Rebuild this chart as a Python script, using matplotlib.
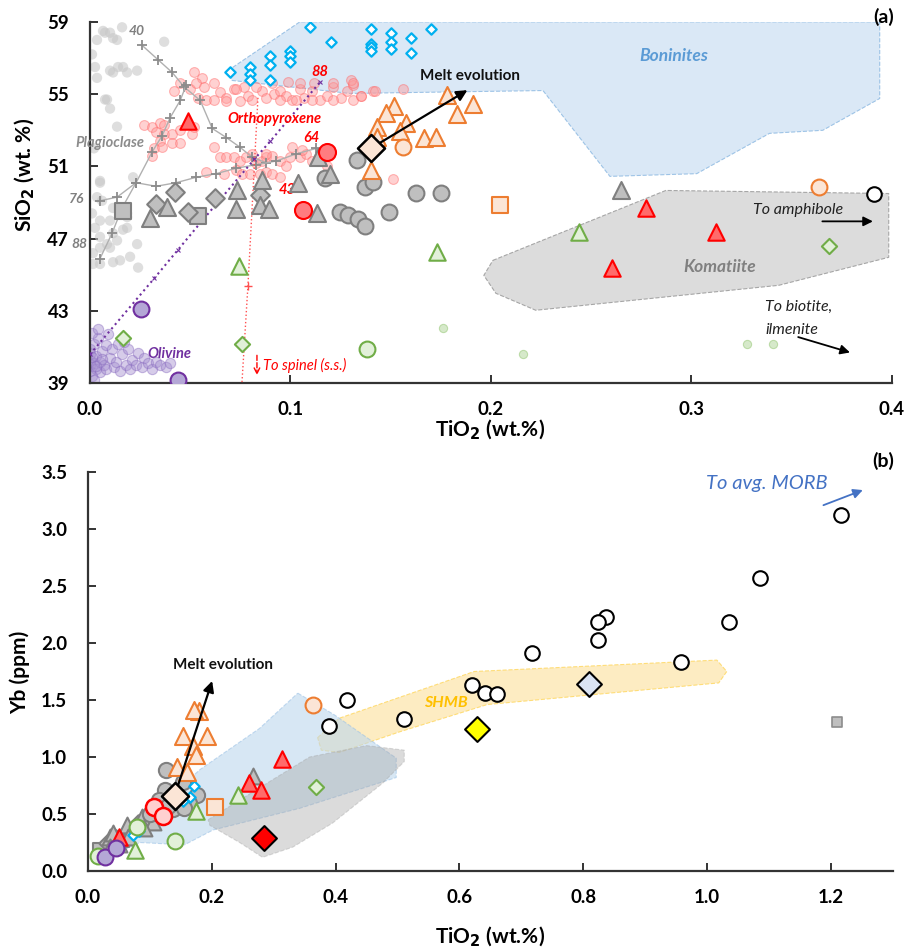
import matplotlib
matplotlib.use('Agg')
import matplotlib.pyplot as plt

plt.rcParams['font.family'] = ['Lato', 'DejaVu Sans']

# ================= Panel (a): SiO2 vs TiO2 =================
plag_x = [0.0065,0.010,0.0035,0.0135,0.014,0.0025,0.0035,0.0085,0.0135,0.005,0.006,0.001,0.0025,0.010,
          0.0115,0.005,0.010,0.0015,0.0135,0.0185,0.015,0.005,0.0185,0.0075,0.0115,0.016,0.037,0.010,
          0.0115,0.0165,0.0185,0.0235,0.0075,0.010,0.0215,0.005,0.0035,0.0115,0.005,0.0165,0.0235,0.0085,
          0.0015,0.0115,0.020,0.024,0.005,0.0185,0.001,0.002]
plag_y = [58.5,58.4,58.0,58.0,56.5,56.5,55.9,54.7,53.2,50.2,49.1,48.4,47.6,48.0,
          47.3,46.5,46.5,46.2,46.9,47.6,45.8,45.6,48.4,58.4,58.1,58.7,57.9,56.3,
          56.2,56.5,56.2,56.3,54.7,54.2,50.4,50.1,49.3,48.7,48.0,47.5,46.7,46.7,
          45.6,45.7,46.0,45.4,47.1,48.2,57.2,52.0]

opx_x = [0.052,0.056,0.045,0.042,0.050,0.053,0.057,0.062,0.065,0.068,0.072,0.077,0.079,0.081,0.086,0.088,
         0.092,0.095,0.098,0.101,0.105,0.107,0.111,0.115,0.118,0.121,0.125,0.128,0.131,0.135,0.141,0.054,
         0.058,0.062,0.068,0.075,0.095,0.103,0.111,0.121,0.131,0.073,0.083,0.099,0.105,0.112,0.121,0.091,
         0.130,0.131,0.135,0.142,0.156,0.151,
         0.027,0.031,0.035,0.037,0.033,0.037,0.041,0.045,0.051,0.052,0.035,0.041,0.045,0.032,0.031,0.036,
         0.062,0.065,0.068,0.072,0.075,0.078,0.081,0.083,0.086,0.088,0.091,0.095,0.098,0.101,0.105,0.108,
         0.111,0.058,0.067,0.073,0.076,0.080,0.085,0.088,0.091,0.095,0.100,0.106,0.118,0.088]
opx_y = [56.2,55.9,55.6,55.2,55.3,55.6,55.4,55.6,55.1,54.8,55.3,55.4,54.9,54.7,55.2,54.8,
         55.0,55.2,54.9,54.7,55.3,54.8,55.2,54.7,54.9,55.4,54.8,55.2,55.5,54.9,55.2,54.8,
         54.7,54.7,54.6,54.6,54.7,54.7,54.7,54.7,54.7,55.3,55.4,55.7,55.6,55.6,55.6,55.6,
         55.8,55.6,54.9,55.2,55.3,50.3,
         53.3,53.2,53.4,53.3,52.9,52.8,52.8,53.0,52.8,53.2,52.4,52.3,52.3,52.0,51.6,52.1,
         52.1,51.5,51.5,51.5,51.3,51.5,51.7,51.2,51.3,51.5,51.6,51.3,51.0,52.1,51.5,51.7,
         51.3,50.7,50.6,50.8,50.6,50.6,50.6,50.7,50.6,50.4,51.5,51.9,51.0,51.7]

ol_x = [0.0,0.0,0.0,0.0,0.0,0.002,0.002,0.003,0.003,0.004,0.005,0.005,0.006,0.007,0.008,0.008,0.010,
        0.011,0.012,0.013,0.014,0.015,0.016,0.018,0.019,0.020,0.021,0.023,0.024,0.026,0.027,0.029,0.031,
        0.033,0.035,0.038,0.040,0.001,0.004,0.009,0.017,0.001,0.002,0.001,0.003,0.006]
ol_y = [40.0,40.3,40.6,40.9,39.7,41.2,40.1,39.8,40.5,41.5,40.2,39.6,40.8,40.0,41.1,39.8,40.4,
        40.9,39.9,40.2,41.2,39.7,40.6,40.0,40.9,39.8,40.3,40.0,40.7,39.9,40.4,40.1,39.8,
        40.2,40.0,39.9,40.1,41.8,42.0,41.7,41.3,39.4,39.2,40.45,39.95,40.35]

bon_x = [0.0688,0.1047,0.394,0.394,0.3656,0.339,0.3027,0.2594,0.226,0.1297,0.0708]
bon_y = [56.3,59.0,59.0,54.76,53.0,52.83,50.6,50.45,55.2,55.04,55.76]
kom_x = [0.201,0.2873,0.3985,0.3985,0.3436,0.2224,0.2025,0.1965]
kom_y = [45.8,49.67,49.5,45.97,44.42,43.04,43.98,44.97]

bdia_x = [0.070,0.080,0.080,0.080,0.090,0.090,0.090,0.100,0.100,0.100,0.110,0.120,0.140,0.140,0.140,
          0.140,0.150,0.150,0.150,0.160,0.160,0.170]
bdia_y = [56.2,56.5,56.1,55.8,57.1,56.6,55.8,57.4,57.1,56.8,58.7,57.9,58.6,57.75,57.6,57.4,58.4,57.9,
          57.5,58.1,57.3,58.6]

gtri_x = [0.0299,0.0384,0.0733,0.0728,0.0858,0.0848,0.0893,0.1132,0.1037,0.1137,0.1197,0.2648]
gtri_y = [48.13,48.73,49.67,48.62,50.23,48.85,48.62,48.40,50.06,51.5,50.6,49.67]
gcir_x = [0.1172,0.1247,0.1287,0.1337,0.1372,0.1332,0.1372,0.1411,0.1491,0.1626,0.1751]
gcir_y = [50.34,48.46,48.29,48.07,47.68,51.33,49.84,50.12,48.46,49.51,49.51]
gdia_x = [0.0329,0.0424,0.0489,0.0623,0.0848]
gdia_y = [48.9,49.56,48.46,49.23,49.4]
gsq_x = [0.0165,0.0539]
gsq_y = [48.51,48.24]

otri_x = [0.1781,0.191,0.183,0.1516,0.1476,0.1576,0.1546,0.1431,0.1431,0.1666,0.1726,0.1401]
otri_y = [54.93,54.43,53.88,54.32,53.93,53.38,52.94,53.16,52.61,52.55,52.61,50.78]
ocir_x = [0.1561,0.3636]
ocir_y = [52.05,49.84]
osq_x = [0.2045]
osq_y = [48.85]

rtri_x = [0.2773,0.3122,0.2604,0.0489]
rtri_y = [48.68,47.35,45.36,53.49]
rcir_x = [0.1182,0.1062]
rcir_y = [51.78,48.57]

grtri_x = [0.0743,0.173,0.2439]
grtri_y = [45.5,46.25,47.35]
grdia_x = [0.0165,0.0758,0.3686]
grdia_y = [41.5,41.2,46.58]
grcir_x = [0.138]
grcir_y = [40.9]
lgr_x = [0.176,0.216,0.3277,0.341]
lgr_y = [42.04,40.6,41.2,41.16]

pcir_x = [0.0254,0.0439]
pcir_y = [43.1,39.2]
kcir_x = [0.391]
kcir_y = [49.5]
bigdia_a = (0.1401, 52.0)

# model curves
l40_x = [0.026,0.034,0.041,0.047,0.055,0.061,0.068,0.075,0.081,0.088]
l40_y = [57.7,56.9,56.2,55.4,54.65,53.1,52.6,52.05,51.5,51.2]
l88_x = [0.005,0.011,0.016,0.023,0.031,0.036,0.040,0.045,0.048]
l88_y = [45.9,47.3,48.7,50.1,51.8,52.7,53.7,54.65,55.5]
l76_x = [0.005,0.0135,0.023,0.033,0.043,0.053,0.063,0.073,0.083,0.093,0.103,0.113]
l76_y = [49.1,49.3,50.1,49.9,50.1,50.4,50.6,50.9,51.1,51.3,51.7,52.0]
ol_line_x = [0.0,0.032,0.044,0.056,0.082,0.090,0.115]
ol_line_y = [40.6,44.8,46.4,48.0,51.4,52.4,55.7]
sp_line_x = [0.0838,0.0805,0.0788,0.0758]
sp_line_y = [54.8,47.9,44.4,39.0]

# ================= Panel (b): Yb vs TiO2 =================
kb_x = [1.216,1.085,1.035,0.837,0.824,0.824,0.718,0.958,0.621,0.642,0.661,0.510,0.419,0.390]
kb_y = [3.12,2.57,2.18,2.23,2.18,2.03,1.91,1.83,1.63,1.56,1.55,1.33,1.50,1.27]
bon2_x = [0.339,0.398,0.498,0.498,0.342,0.202,0.156,0.084,0.015,0.181,0.277]
bon2_y = [1.56,1.37,0.99,0.82,0.55,0.36,0.23,0.25,0.08,0.89,1.25]
kom2_x = [0.194,0.289,0.358,0.45,0.511,0.511,0.476,0.395,0.331,0.282,0.245,0.197]
kom2_y = [0.45,0.77,1.00,1.10,1.06,0.96,0.77,0.42,0.21,0.12,0.25,0.40]
shmb_x = [0.371,0.406,0.624,1.016,1.032,1.019,0.645,0.503,0.406,0.377]
shmb_y = [1.17,1.34,1.75,1.85,1.75,1.65,1.46,1.22,1.04,1.06]

b_otri_x = [0.179,0.172,0.153,0.192,0.169,0.175,0.144,0.160]
b_otri_y = [1.40,1.41,1.18,1.18,1.10,1.02,0.91,0.87]
b_ocir_x = [0.363]
b_ocir_y = [1.46]
b_osq_x = [0.206]
b_osq_y = [0.56]
b_rtri_x = [0.314,0.260,0.279,0.050]
b_rtri_y = [0.98,0.77,0.71,0.30]
b_rcir_x = [0.106,0.121]
b_rcir_y = [0.56,0.48]
b_grtri_x = [0.242,0.174,0.076]
b_grtri_y = [0.67,0.53,0.18]
b_grdia_x = [0.369]
b_grdia_y = [0.74]
b_grcir_x = [0.140,0.079,0.016]
b_grcir_y = [0.26,0.39,0.13]
b_pcir_x = [0.027,0.046]
b_pcir_y = [0.12,0.20]
b_bdia_x = [0.151,0.171,0.111,0.073,0.082,0.165,0.153]
b_bdia_y = [0.86,0.75,0.54,0.32,0.35,0.65,0.61]
b_gcir_x = [0.126,0.153,0.176,0.163,0.137,0.124,0.145,0.115,0.130,0.100,0.155]
b_gcir_y = [0.89,0.78,0.67,0.60,0.54,0.71,0.62,0.62,0.57,0.50,0.55]
b_gtri_x = [0.035,0.040,0.063,0.087,0.105,0.090,0.035,0.065,0.110,0.125,0.266,0.050]
b_gtri_y = [0.30,0.33,0.40,0.47,0.43,0.38,0.21,0.30,0.52,0.60,0.83,0.24]
b_gdia_x = [0.030,0.045,0.068,0.095,0.080]
b_gdia_y = [0.25,0.29,0.34,0.46,0.42]
b_gsq_x = [0.020,0.055]
b_gsq_y = [0.18,0.27]
b_gsq_small = (1.21, 1.31)
b_bigdia = (0.140, 0.66)
b_bluedia = (0.810, 1.64)
b_yeldia = (0.629, 1.245)
b_reddia = (0.285, 0.29)

# ---------------- styles ----------------
GRAY_FC, GRAY_EC = '#bfbfbf', '#7f7f7f'
OR_FC, OR_EC = '#fbe5d6', '#ed7d31'
GR_FC, GR_EC = '#e2f0d9', '#70ad47'

fig = plt.figure(figsize=(9.09, 9.51), dpi=100)
axA = fig.add_axes([0.099, 0.597, 0.882, 0.380])
axB = fig.add_axes([0.0968, 0.0841, 0.8852, 0.4196])


def sc(ax, x, y, m, s, fc, ec, lw=1.5, z=5, alpha=1.0):
    ax.scatter(x, y, marker=m, s=s, facecolors=fc, edgecolors=ec, linewidths=lw, zorder=z, alpha=alpha)


def style(ax):
    for sp in ['top', 'right']:
        ax.spines[sp].set_visible(False)
    for sp in ['left', 'bottom']:
        ax.spines[sp].set_linewidth(1.6)
        ax.spines[sp].set_color('#333333')
    ax.tick_params(direction='in', length=6, width=1.4, color='#333333', labelsize=13.5)
    ax.tick_params(axis='y', pad=15)
    ax.tick_params(axis='x', pad=13)
    for lab in ax.get_xticklabels() + ax.get_yticklabels():
        lab.set_fontweight('bold')


# ---- Panel A ----
ax = axA
ax.fill(bon_x, bon_y, facecolor='#dae8f6', edgecolor='#9dc3e6', ls='--', lw=0.8, zorder=1)
ax.fill(kom_x, kom_y, facecolor='#dcdcdc', edgecolor='#a6a6a6', ls='--', lw=0.8, zorder=1)
ax.scatter(plag_x, plag_y, s=55, color='#c8c8c8', alpha=0.6, edgecolors='none', zorder=2)
ax.scatter(ol_x, ol_y, s=55, facecolors='#a58fd0', edgecolors='#8a6cc0', alpha=0.45, lw=0.8, zorder=2)
ax.scatter(opx_x, opx_y, s=50, facecolors='#ff9a9a', edgecolors='#ff6666', alpha=0.45, lw=0.8, zorder=2)
ax.scatter(lgr_x, lgr_y, s=35, facecolors='#c5e0b4', edgecolors='#a9d18e', alpha=0.7, lw=0.8, zorder=2)

for lx, ly in [(l40_x, l40_y), (l88_x, l88_y), (l76_x, l76_y)]:
    ax.plot(lx, ly, color='#b0b0b0', lw=1.0, marker='+', ms=7, mew=1.3, mec='#8c8c8c', zorder=3)
ax.plot(ol_line_x, ol_line_y, color='#7030a0', ls=':', lw=1.5, marker='x', ms=3, mew=0.8, zorder=3)
ax.plot(sp_line_x, sp_line_y, color='#ff5050', ls=':', lw=1.0, zorder=3)
ax.plot([sp_line_x[2]], [sp_line_y[2]], color='#ff5050', marker='+', ms=6, mew=1, zorder=3)

sc(ax, bdia_x, bdia_y, 'D', 28, 'white', '#00b0f0', lw=1.6, z=4)
sc(ax, gsq_x, gsq_y, 's', 140, GRAY_FC, GRAY_EC)
sc(ax, gdia_x, gdia_y, 'D', 90, GRAY_FC, GRAY_EC)
sc(ax, gcir_x, gcir_y, 'o', 130, GRAY_FC, GRAY_EC)
sc(ax, gtri_x, gtri_y, '^', 150, GRAY_FC, GRAY_EC)
sc(ax, otri_x, otri_y, '^', 150, OR_FC, OR_EC)
sc(ax, ocir_x, ocir_y, 'o', 130, OR_FC, OR_EC)
sc(ax, osq_x, osq_y, 's', 130, OR_FC, OR_EC)
sc(ax, rtri_x, rtri_y, '^', 140, '#ff6b6b', '#ff0000')
sc(ax, rcir_x, rcir_y, 'o', 150, '#ff7c80', '#ff0000')
sc(ax, grtri_x, grtri_y, '^', 140, GR_FC, GR_EC)
sc(ax, grdia_x, grdia_y, 'D', 60, GR_FC, GR_EC)
sc(ax, grcir_x, grcir_y, 'o', 130, GR_FC, GR_EC)
sc(ax, pcir_x, pcir_y, 'o', 130, '#b4a7d6', '#7030a0')
sc(ax, kcir_x, kcir_y, 'o', 110, 'white', 'black')
ax.annotate('', xy=(0.1895, 55.3), xytext=bigdia_a,
            arrowprops=dict(arrowstyle='-|>', color='black', lw=1.6, mutation_scale=16), zorder=6)
sc(ax, [bigdia_a[0]], [bigdia_a[1]], 'D', 190, '#fbe5d6', 'black', lw=1.8, z=7)

ax.set_xlim(0, 0.4)
ax.set_ylim(39, 59)
ax.set_xticks([0.0, 0.1, 0.2, 0.3, 0.4])
ax.set_xticklabels(['0.0', '0.1', '0.2', '0.3', '0.4'])
ax.set_yticks([39, 43, 47, 51, 55, 59])
style(ax)

it = dict(fontstyle='italic', fontweight='bold')
ax.text(0.1895, 56.0, 'Melt evolution', ha='center', va='center', fontsize=11, fontweight='bold', color='#111111', zorder=8)
ax.text(0.2915, 57.1, 'Boninites', ha='center', va='center', fontsize=12.5, color='#5b9bd5', **it)
ax.text(0.3142, 45.42, 'Komatiite', ha='center', va='center', fontsize=12.5, color='#808080', **it)
ax.text(0.092, 53.6, 'Orthopyroxene', ha='center', va='center', fontsize=10.5, color='#ff0000', **it)
ax.text(-0.0075, 52.3, 'Plagioclase', ha='left', va='center', fontsize=10.5, color='#8c8c8c', **it)
ax.text(0.0285, 40.6, 'Olivine', ha='left', va='center', fontsize=10.5, color='#7030a0', **it)
ax.text(0.0235, 58.5, '40', ha='center', va='center', fontsize=10, color='#808080', **it)
ax.text(-0.0065, 49.2, '76', ha='center', va='center', fontsize=10, color='#808080', **it)
ax.text(-0.0055, 46.7, '88', ha='center', va='center', fontsize=10, color='#808080', **it)
ax.text(0.1147, 56.2, '88', ha='center', va='center', fontsize=10.5, color='#ff0000', **it)
ax.text(0.1107, 52.6, '64', ha='center', va='center', fontsize=10.5, color='#ff0000', **it)
ax.text(0.0985, 49.7, '43', ha='center', va='center', fontsize=10.5, color='#ff0000', **it)
ax.text(0.0865, 40.0, 'To spinel (s.s.)', ha='left', va='center', fontsize=10.5, color='#ff0000', fontstyle='italic')
ax.annotate('', xy=(0.0833, 39.3), xytext=(0.0833, 40.7),
            arrowprops=dict(arrowstyle='->', color='#ff0000', lw=1.0, ls='--'))
ax.text(0.331, 48.57, 'To amphibole', ha='left', va='center', fontsize=11.5, color='#222222', fontstyle='italic')
ax.annotate('', xy=(0.392, 47.96), xytext=(0.364, 47.96),
            arrowprops=dict(arrowstyle='-|>', color='black', lw=1.3, mutation_scale=14))
ax.text(0.337, 43.2, 'To biotite,', ha='left', va='center', fontsize=11.5, color='#222222', fontstyle='italic')
ax.text(0.337, 41.95, 'ilmenite', ha='left', va='center', fontsize=11.5, color='#222222', fontstyle='italic')
ax.annotate('', xy=(0.3805, 40.66), xytext=(0.352, 41.6),
            arrowprops=dict(arrowstyle='-|>', color='black', lw=1.3, mutation_scale=14))

# ---- Panel B ----
ax = axB
ax.fill(shmb_x, shmb_y, facecolor='#fde9b8', edgecolor='#ffd966', ls='--', lw=0.8, alpha=0.85, zorder=1)
ax.fill(bon2_x, bon2_y, facecolor='#bdd7ee', edgecolor='#9dc3e6', ls='--', lw=0.8, alpha=0.6, zorder=1)
ax.fill(kom2_x, kom2_y, facecolor='#a6a6a6', edgecolor='#a6a6a6', ls='--', lw=0.8, alpha=0.4, zorder=1)

sc(ax, b_gsq_x, b_gsq_y, 's', 100, GRAY_FC, GRAY_EC)
sc(ax, b_gdia_x, b_gdia_y, 'D', 70, GRAY_FC, GRAY_EC)
sc(ax, b_gtri_x, b_gtri_y, '^', 130, GRAY_FC, GRAY_EC)
sc(ax, b_gcir_x, b_gcir_y, 'o', 120, GRAY_FC, GRAY_EC)
sc(ax, b_bdia_x, b_bdia_y, 'D', 28, 'white', '#00b0f0', lw=1.6)
sc(ax, b_otri_x, b_otri_y, '^', 150, OR_FC, OR_EC)
sc(ax, b_ocir_x, b_ocir_y, 'o', 130, OR_FC, OR_EC)
sc(ax, b_osq_x, b_osq_y, 's', 130, OR_FC, OR_EC)
sc(ax, b_rtri_x, b_rtri_y, '^', 140, '#ff6b6b', '#ff0000')
sc(ax, b_rcir_x, b_rcir_y, 'o', 150, '#ffd0d0', '#ff0000', lw=1.8)
sc(ax, b_grtri_x, b_grtri_y, '^', 140, GR_FC, GR_EC)
sc(ax, b_grdia_x, b_grdia_y, 'D', 60, GR_FC, GR_EC)
sc(ax, b_grcir_x, b_grcir_y, 'o', 130, GR_FC, GR_EC)
sc(ax, b_pcir_x, b_pcir_y, 'o', 130, '#b4a7d6', '#7030a0')
sc(ax, kb_x, kb_y, 'o', 110, 'white', 'black')
sc(ax, [b_gsq_small[0]], [b_gsq_small[1]], 's', 55, '#bfbfbf', '#8c8c8c', lw=1.2)
sc(ax, [b_bluedia[0]], [b_bluedia[1]], 'D', 160, '#dae3f3', 'black', lw=1.5)
sc(ax, [b_yeldia[0]], [b_yeldia[1]], 'D', 160, '#ffff00', 'black', lw=1.5)
sc(ax, [b_reddia[0]], [b_reddia[1]], 'D', 160, '#ff0000', 'black', lw=1.5)
ax.annotate('', xy=(0.202, 1.69), xytext=b_bigdia,
            arrowprops=dict(arrowstyle='-|>', color='black', lw=1.6, mutation_scale=16), zorder=6)
sc(ax, [b_bigdia[0]], [b_bigdia[1]], 'D', 190, '#fbe5d6', 'black', lw=1.8, z=7)

ax.set_xlim(0, 1.3)
ax.set_ylim(0, 3.5)
ax.set_xticks([0.0, 0.2, 0.4, 0.6, 0.8, 1.0, 1.2])
ax.set_xticklabels(['0.0', '0.2', '0.4', '0.6', '0.8', '1.0', '1.2'])
ax.set_yticks([0.0, 0.5, 1.0, 1.5, 2.0, 2.5, 3.0, 3.5])
ax.set_yticklabels(['0.0', '0.5', '1.0', '1.5', '2.0', '2.5', '3.0', '3.5'])
style(ax)

ax.text(0.218, 1.81, 'Melt evolution', ha='center', va='center', fontsize=11, fontweight='bold', color='#111111')
ax.text(0.579, 1.47, 'SHMB', ha='center', va='center', fontsize=11.5, color='#ffc000', **it)
ax.text(1.097, 3.40, 'To avg. MORB', ha='center', va='center', fontsize=14.5, color='#4472c4', fontstyle='italic')
ax.annotate('', xy=(1.256, 3.35), xytext=(1.184, 3.20),
            arrowprops=dict(arrowstyle='-|>', color='#4472c4', lw=1.3, mutation_scale=14))

# ---- labels ----
fig.text(0.539, 0.548, 'TiO$_\\mathbf{2}$ (wt.%)', ha='center', va='center', fontsize=15, fontweight='bold')
fig.text(0.539, 0.0147, 'TiO$_\\mathbf{2}$ (wt.%)', ha='center', va='center', fontsize=15, fontweight='bold')
fig.text(0.0275, 0.816, 'SiO$_\\mathbf{2}$ (wt. %)', ha='center', va='center', fontsize=15, fontweight='bold', rotation=90)
fig.text(0.022, 0.293, 'Yb (ppm)', ha='center', va='center', fontsize=15, fontweight='bold', rotation=90)
fig.text(0.984, 0.982, '(a)', ha='right', va='center', fontsize=14, fontweight='bold')
fig.text(0.984, 0.515, '(b)', ha='right', va='center', fontsize=14, fontweight='bold')

fig.savefig('out.png', dpi=100)
